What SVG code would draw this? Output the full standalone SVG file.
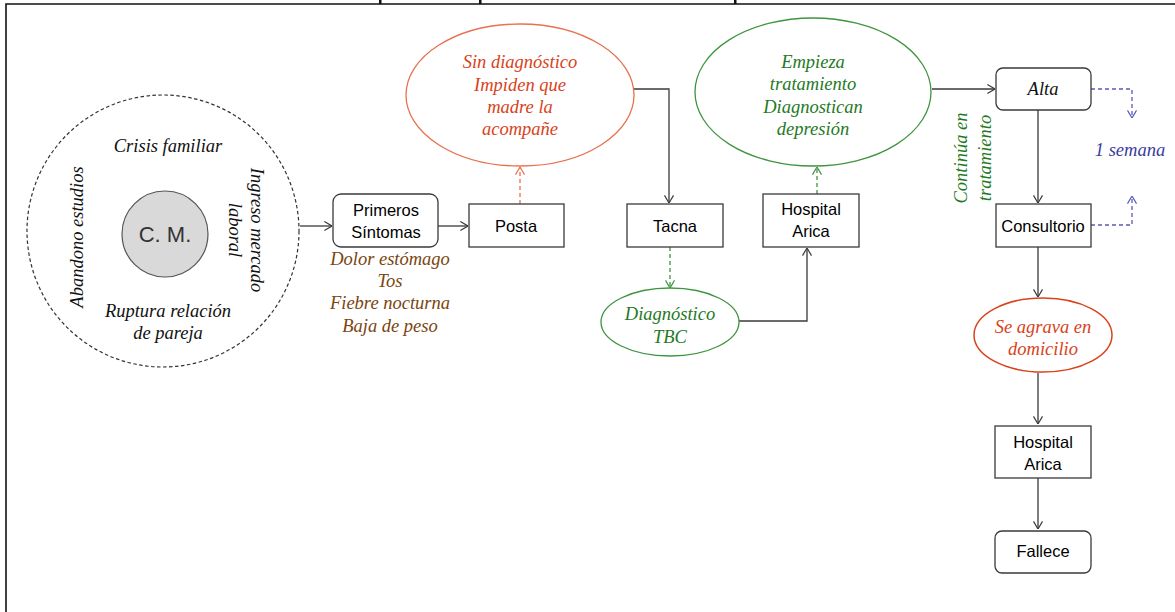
<svg xmlns="http://www.w3.org/2000/svg" width="1175" height="612" viewBox="0 0 1175 612">
<style>
.box{fill:#fff;stroke:#3a3a3a;stroke-width:1.3}
.sans{font-family:"Liberation Sans",Arial,sans-serif;font-size:16.5px;fill:#000;text-anchor:middle}
.ser{font-family:"Liberation Serif","Times New Roman",serif;font-style:italic;font-size:18.5px;text-anchor:middle}
.blk{fill:#111}
.red{fill:#d8431b}
.grn{fill:#1f7a1f}
.brn{fill:#7a4510}
.blu{fill:#3b3ba0}
.ln{fill:none;stroke:#3a3a3a;stroke-width:1.3}
.dr{fill:none;stroke:#e8714f;stroke-width:1.3;stroke-dasharray:4 3}
.dg{fill:none;stroke:#3f943f;stroke-width:1.3;stroke-dasharray:4 3}
.db{fill:none;stroke:#5a5ab8;stroke-width:1.3;stroke-dasharray:4 3}
</style>
<defs>
<marker id="ak" viewBox="0 0 10 12" refX="9.5" refY="6" markerWidth="9" markerHeight="11" markerUnits="userSpaceOnUse" orient="auto"><path d="M1,1 L9.5,6 L1,11" fill="none" stroke="#3a3a3a" stroke-width="1.3"/></marker>
<marker id="ar" viewBox="0 0 10 12" refX="9.5" refY="6" markerWidth="9" markerHeight="11" markerUnits="userSpaceOnUse" orient="auto"><path d="M1,1 L9.5,6 L1,11" fill="none" stroke="#e8714f" stroke-width="1.3"/></marker>
<marker id="ag" viewBox="0 0 10 12" refX="9.5" refY="6" markerWidth="9" markerHeight="11" markerUnits="userSpaceOnUse" orient="auto"><path d="M1,1 L9.5,6 L1,11" fill="none" stroke="#3f943f" stroke-width="1.3"/></marker>
<marker id="ab" viewBox="0 0 10 12" refX="9.5" refY="6" markerWidth="9" markerHeight="11" markerUnits="userSpaceOnUse" orient="auto"><path d="M1,1 L9.5,6 L1,11" fill="none" stroke="#5a5ab8" stroke-width="1.3"/></marker>
</defs>
<rect width="1175" height="612" fill="#fff"/>
<g id="frame">
<path d="M6,612 L6,4 L1175,4" fill="none" stroke="#111" stroke-width="1.6"/>
<rect x="379" y="0" width="2.5" height="4" fill="#111"/>
<rect x="479" y="0" width="2.5" height="4" fill="#111"/>
<rect x="734" y="0" width="2.5" height="4" fill="#111"/>
</g>

<g id="connectors">
<path class="ln" d="M300,226 L332,226" marker-end="url(#ak)"/>
<path class="ln" d="M438,226 L468,226" marker-end="url(#ak)"/>
<path class="dr" d="M520,204 L520,167" marker-end="url(#ar)"/>
<path class="ln" d="M633,89 L669,89 L669,203" marker-end="url(#ak)"/>
<path class="dg" d="M670,247 L670,288" marker-end="url(#ag)"/>
<path class="ln" d="M739,321 L807,321 L807,248" marker-end="url(#ak)"/>
<path class="dg" d="M817,194 L817,167" marker-end="url(#ag)"/>
<path class="ln" d="M932,89 L995,89" marker-end="url(#ak)"/>
<path class="ln" d="M1038,110 L1038,203" marker-end="url(#ak)"/>
<path class="db" d="M1091,89 L1132,89 L1132,118" marker-end="url(#ab)"/>
<path class="db" d="M1091,225 L1132,225 L1132,196" marker-end="url(#ab)"/>
<path class="ln" d="M1038,247 L1038,297" marker-end="url(#ak)"/>
<path class="ln" d="M1038,373 L1038,424" marker-end="url(#ak)"/>
<path class="ln" d="M1038,478 L1038,529" marker-end="url(#ak)"/>
</g>

<g id="contexto">
<circle cx="163" cy="231" r="136" fill="none" stroke="#333" stroke-width="1.2" stroke-dasharray="3.5 2.5"/>
<text class="ser blk" x="168" y="152">Crisis familiar</text>
<text class="ser blk" transform="translate(83,237) rotate(-90)">Abandono estudios</text>
<text class="ser blk" transform="translate(251,230) rotate(90)"><tspan x="0" y="0">Ingreso mercado</tspan><tspan x="0" y="22">laboral</tspan></text>
<text class="ser blk" x="168" y="317">Ruptura relación</text>
<text class="ser blk" x="168" y="339">de pareja</text>
</g>
<g id="cm">
<circle cx="165" cy="234" r="43" fill="#d9d9d9" stroke="#555" stroke-width="1.2"/>
<text x="165" y="242" font-family="'Liberation Sans',Arial,sans-serif" font-size="22" fill="#333" text-anchor="middle">C. M.</text>
</g>

<g id="primeros">
<rect class="box" x="333" y="194" width="105" height="53" rx="8"/>
<text class="sans" x="386" y="216">Primeros</text>
<text class="sans" x="386" y="238">Síntomas</text>
</g>
<g id="sintomas">
<text class="ser brn" x="390" y="265">Dolor estómago</text>
<text class="ser brn" x="390" y="287">Tos</text>
<text class="ser brn" x="390" y="309">Fiebre nocturna</text>
<text class="ser brn" x="390" y="332">Baja de peso</text>
</g>
<g id="posta">
<rect class="box" x="469" y="204" width="95" height="43"/>
<text class="sans" x="516" y="232">Posta</text>
</g>
<g id="sindiag">
<ellipse cx="520" cy="95" rx="114" ry="71" fill="#fff" stroke="#e8714f" stroke-width="1.3"/>
<text class="ser red" x="520" y="68">Sin diagnóstico</text>
<text class="ser red" x="520" y="91">Impiden que</text>
<text class="ser red" x="520" y="113">madre la</text>
<text class="ser red" x="520" y="135">acompañe</text>
</g>
<g id="tacna">
<rect class="box" x="627" y="204" width="96" height="43"/>
<text class="sans" x="675" y="232">Tacna</text>
</g>
<g id="diagtbc">
<ellipse cx="670" cy="322" rx="69" ry="34" fill="#fff" stroke="#3f943f" stroke-width="1.3"/>
<text class="ser grn" x="670" y="320">Diagnóstico</text>
<text class="ser grn" x="670" y="343">TBC</text>
</g>
<g id="hospital1">
<rect class="box" x="763" y="194" width="96" height="53"/>
<text class="sans" x="811" y="215">Hospital</text>
<text class="sans" x="811" y="237">Arica</text>
</g>
<g id="empieza">
<ellipse cx="813" cy="92" rx="118" ry="74" fill="#fff" stroke="#3f943f" stroke-width="1.3"/>
<text class="ser grn" x="813" y="68">Empieza</text>
<text class="ser grn" x="813" y="90">tratamiento</text>
<text class="ser grn" x="813" y="113">Diagnostican</text>
<text class="ser grn" x="813" y="135">depresión</text>
</g>
<g id="continua">
<text class="ser grn" transform="translate(967,158) rotate(-90)"><tspan x="0" y="0">Continúa en</tspan><tspan x="0" y="24">tratamiento</tspan></text>
</g>
<g id="alta">
<rect class="box" x="996" y="68" width="95" height="42" rx="7"/>
<text class="ser blk" x="1043" y="95">Alta</text>
</g>
<g id="semana">
<text class="ser blu" x="1130" y="156">1 semana</text>
</g>
<g id="consultorio">
<rect class="box" x="996" y="204" width="95" height="43"/>
<text class="sans" x="1043" y="232">Consultorio</text>
</g>
<g id="agrava">
<ellipse cx="1043" cy="335" rx="69" ry="37" fill="#fff" stroke="#d8431b" stroke-width="1.5"/>
<text class="ser red" x="1043" y="333">Se agrava en</text>
<text class="ser red" x="1043" y="355">domicilio</text>
</g>
<g id="hospital2">
<rect class="box" x="995" y="426" width="96" height="52"/>
<text class="sans" x="1043" y="448">Hospital</text>
<text class="sans" x="1043" y="470">Arica</text>
</g>
<g id="fallece">
<rect class="box" x="995" y="531" width="96" height="42" rx="7"/>
<text class="sans" x="1043" y="557">Fallece</text>
</g>
</svg>
